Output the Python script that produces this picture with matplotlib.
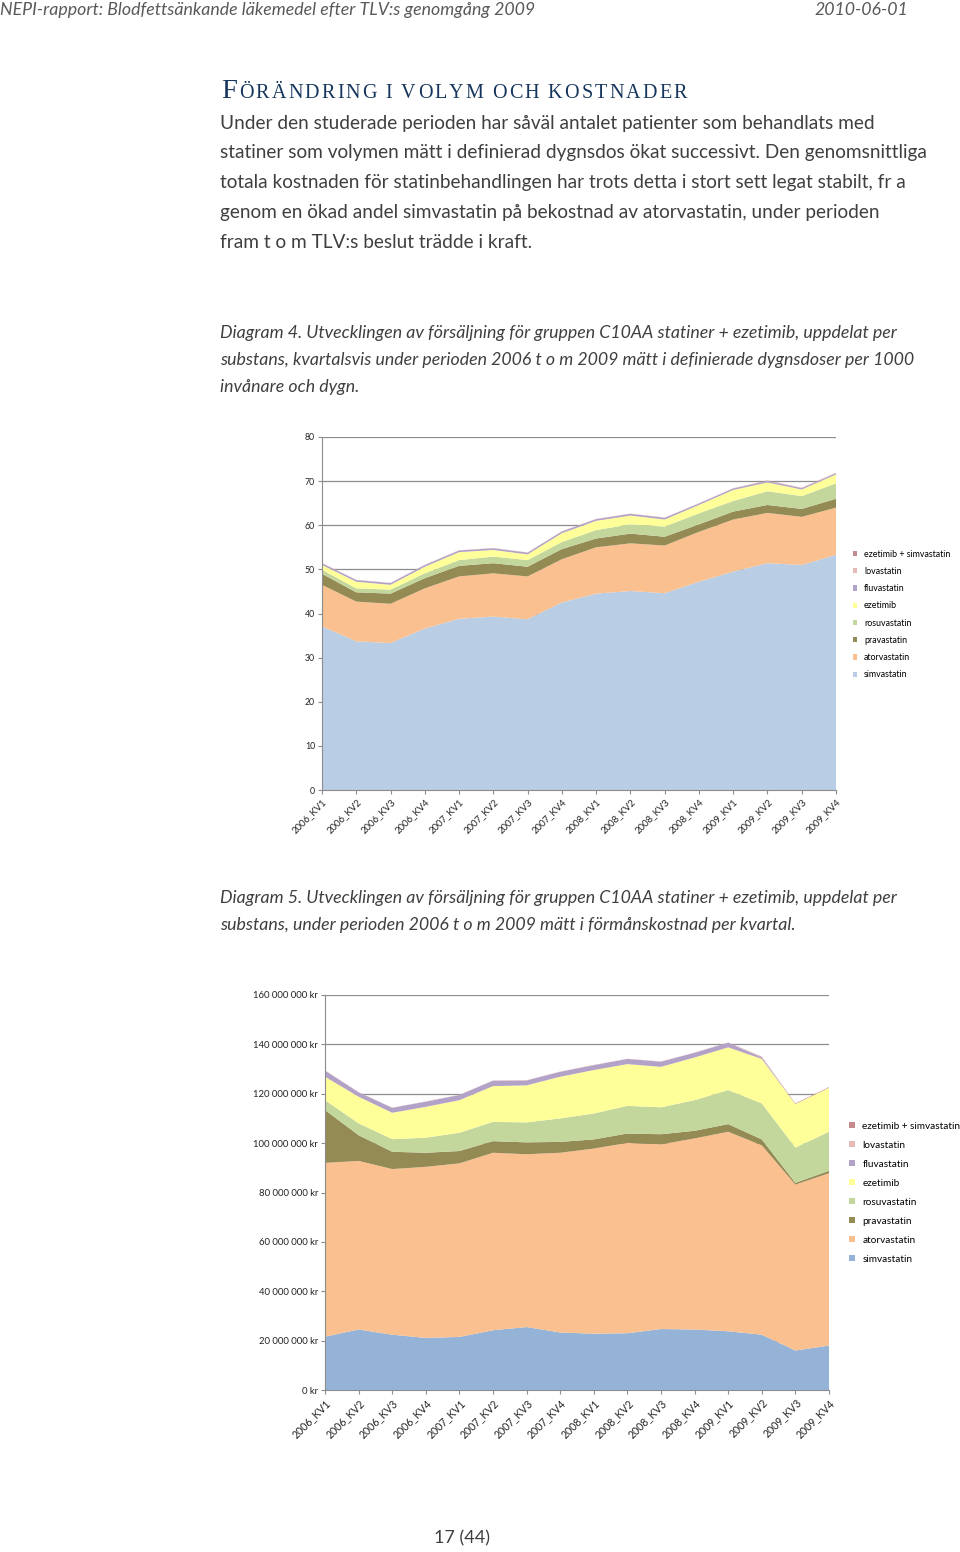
import numpy as np
import matplotlib
matplotlib.use('Agg')
from matplotlib import pyplot as plt
from matplotlib.patches import Patch

quarters = ['2006_KV1', '2006_KV2', '2006_KV3', '2006_KV4',
            '2007_KV1', '2007_KV2', '2007_KV3', '2007_KV4',
            '2008_KV1', '2008_KV2', '2008_KV3', '2008_KV4',
            '2009_KV1', '2009_KV2', '2009_KV3', '2009_KV4']

substances = ['simvastatin', 'atorvastatin', 'pravastatin', 'rosuvastatin',
              'ezetimib', 'fluvastatin', 'lovastatin', 'ezetimib + simvastatin']

# Diagram 4: DDD per 1000 invånare och dygn
simva_ddd = [37.1, 33.7, 33.3, 36.6, 38.8, 39.3, 38.7, 42.5, 44.5, 45.1, 44.6, 47.2, 49.5, 51.4, 51.0, 53.3]
atorva_ddd = [9.4, 9.0, 8.9, 9.1, 9.6, 9.8, 9.7, 9.8, 10.5, 10.8, 10.8, 11.3, 11.8, 11.4, 10.9, 10.7]
prava_ddd = [2.5, 2.1, 2.3, 2.3, 2.4, 2.3, 2.2, 2.3, 2.0, 2.2, 2.0, 1.7, 1.8, 1.8, 1.8, 2.0]
rosu_ddd = [0.9, 0.9, 0.9, 1.1, 1.3, 1.5, 1.5, 1.6, 1.9, 2.1, 2.3, 2.5, 2.4, 3.1, 2.9, 3.5]
eze_ddd = [1.1, 1.5, 1.1, 1.5, 1.8, 1.5, 1.3, 2.0, 2.1, 2.0, 1.6, 1.9, 2.5, 2.0, 1.5, 2.0]
fluva_ddd = [0.4, 0.4, 0.4, 0.4, 0.4, 0.4, 0.4, 0.4, 0.4, 0.4, 0.4, 0.35, 0.35, 0.35, 0.3, 0.3]
lova_ddd = [0.05, 0.05, 0.05, 0.05, 0.05, 0.05, 0.05, 0.05, 0.05, 0.05, 0.05, 0.05, 0.05, 0.05, 0.05, 0.05]
ezsim_ddd = [0.0, 0.0, 0.0, 0.0, 0.0, 0.0, 0.0, 0.0, 0.0, 0.0, 0.0, 0.0, 0.0, 0.05, 0.05, 0.05]

# Diagram 5: förmånskostnad per kvartal (miljoner kr)
simva_kr = [21.6, 24.5, 22.4, 21.1, 21.5, 24.2, 25.5, 23.3, 22.8, 23.0, 24.7, 24.5, 23.8, 22.4, 16.0, 18.0]
atorva_kr = [70.4, 68.3, 67.1, 69.3, 70.3, 71.9, 70.0, 72.8, 75.0, 77.1, 74.8, 77.4, 80.8, 76.7, 67.2, 69.8]
prava_kr = [21.4, 10.4, 7.0, 5.7, 5.0, 4.7, 4.8, 4.4, 3.7, 3.8, 4.1, 3.1, 3.1, 2.4, 0.7, 1.0]
rosu_kr = [4.0, 4.8, 5.1, 6.1, 7.4, 7.8, 8.1, 9.5, 10.5, 11.2, 10.9, 12.4, 13.8, 14.6, 14.3, 15.8]
eze_kr = [9.5, 10.8, 10.7, 12.5, 13.2, 14.5, 15.0, 16.9, 17.6, 16.9, 16.4, 17.3, 17.3, 18.0, 17.6, 17.8]
fluva_kr = [2.5, 1.8, 2.0, 2.1, 2.1, 2.2, 2.0, 2.0, 2.0, 2.1, 2.1, 1.9, 1.9, 0.6, 0.0, 0.0]
lova_kr = [0.1, 0.1, 0.1, 0.1, 0.1, 0.1, 0.1, 0.1, 0.1, 0.1, 0.1, 0.1, 0.1, 0.1, 0.1, 0.1]
ezsim_kr = [0.0, 0.0, 0.0, 0.0, 0.0, 0.0, 0.0, 0.0, 0.0, 0.0, 0.0, 0.0, 0.0, 0.2, 0.2, 0.2]

kr_ticks = [0, 20, 40, 60, 80, 100, 120, 140, 160]
ddd_ticks = [0, 10, 20, 30, 40, 50, 60, 70, 80]

colors1 = ['#B9CDE5', '#FAC090', '#948A54', '#C3D69B', '#FFFF99', '#B3A2C7', '#E6B9B8', '#C48A8C']
colors2 = ['#95B3D7', '#FAC090', '#948A54', '#C3D69B', '#FFFF99', '#B3A2C7', '#E6B9B8', '#C48A8C']

body = '#3F3F3F'
sans = ['Lato', 'DejaVu Sans']

fig = plt.figure(figsize=(9.6, 15.52), dpi=100)
renderer = fig.canvas.get_renderer()

def ftext(x, y, s, **kw):
    return fig.text(x / 960, 1 - y / 1552, s, **kw)

# Page header
ftext(0, 10, 'NEPI-rapport: Blodfettsänkande läkemedel efter TLV:s genomgång 2009',
      fontsize=12.8, style='italic', color='#595959', family=sans, va='center')
ftext(908, 10, '2010-06-01', fontsize=12.8, style='italic', color='#595959',
      family=sans, va='center', ha='right')

# Heading in small caps with letter spacing
head_col = '#17365D'
head_chars = [('F', 20.5)] + [(c, 14.5) for c in 'ÖRÄNDRING I VOLYM OCH KOSTNADER']
widths = []  # pixels
for c, size in head_chars:
    if c == ' ':
        widths.append(size * 0.3)
    else:
        t = fig.text(0, 0, c, fontsize=size, family='Liberation Serif')
        widths.append(t.get_window_extent(renderer).width)
        t.remove()
head_x0, head_x1 = 221, 687
track = (head_x1 - head_x0 - sum(widths)) / (len(head_chars) - 1)
x = head_x0
for (c, size), w in zip(head_chars, widths):
    if c != ' ':
        ftext(x, 98, c, fontsize=size, color=head_col, family='Liberation Serif', va='baseline')
    x += w + track

para = ['Under den studerade perioden har såväl antalet patienter som behandlats med',
        'statiner som volymen mätt i definierad dygnsdos ökat successivt. Den genomsnittliga',
        'totala kostnaden för statinbehandlingen har trots detta i stort sett legat stabilt, fr a',
        'genom en ökad andel simvastatin på bekostnad av atorvastatin, under perioden',
        'fram t o m TLV:s beslut trädde i kraft.']
for i, line in enumerate(para):
    ftext(220, 123 + i * 29.8, line, fontsize=13.65, color=body, family=sans, va='center')

cap4 = ['Diagram 4. Utvecklingen av försäljning för gruppen C10AA statiner + ezetimib, uppdelat per',
        'substans, kvartalsvis under perioden 2006 t o m 2009 mätt i definierade dygnsdoser per 1000',
        'invånare och dygn.']
for i, line in enumerate(cap4):
    ftext(220, 333 + i * 27, line, fontsize=12.75, style='italic', color=body, family=sans, va='center')

cap5 = ['Diagram 5. Utvecklingen av försäljning för gruppen C10AA statiner + ezetimib, uppdelat per',
        'substans, under perioden 2006 t o m 2009 mätt i förmånskostnad per kvartal.']
for i, line in enumerate(cap5):
    ftext(220, 898 + i * 27, line, fontsize=12.75, style='italic', color=body, family=sans, va='center')

ftext(462, 1538, '17 (44)', fontsize=13, color=body, family=sans, va='center', ha='center')


def area_chart(ax, series, colors, ticks, labelfmt, yfs, xfs):
    x = np.arange(len(quarters))
    ax.stackplot(x, *series, colors=colors, linewidth=0)
    ax.set_xlim(0, len(quarters) - 1)
    ax.set_ylim(ticks[0], ticks[-1])
    ax.set_yticks(ticks)
    ax.set_yticklabels([labelfmt(v) for v in ticks], fontsize=yfs, family=sans, color='#222222')
    ax.set_xticks(x)
    ax.set_xticklabels(quarters, rotation=45, ha='right', rotation_mode='anchor',
                       fontsize=xfs, family=sans, color='#222222')
    ax.grid(axis='y', color='#8C8C8C', linewidth=0.9)
    ax.set_axisbelow(True)
    for s in ['top', 'right']:
        ax.spines[s].set_visible(False)
    for s in ['left', 'bottom']:
        ax.spines[s].set_color('#8C8C8C')
    ax.tick_params(axis='both', length=3, color='#8C8C8C', pad=2)


ax1 = fig.add_axes([322 / 960, 1 - 790 / 1552, 514 / 960, 353 / 1552])
area_chart(ax1, [simva_ddd, atorva_ddd, prava_ddd, rosu_ddd, eze_ddd, fluva_ddd, lova_ddd, ezsim_ddd],
           colors1, ddd_ticks, lambda v: f'{v}', 6.3, 6.8)
h1 = [Patch(facecolor=c, edgecolor='none') for c in colors1][::-1]
fig.legend(h1, substances[::-1], loc='upper left', bbox_to_anchor=(849 / 960, 1 - 546 / 1552),
           frameon=False, prop={'family': sans, 'size': 6.4}, handlelength=0.55,
           handleheight=0.55, handletextpad=0.75, labelspacing=0.93, borderaxespad=0)

ax2 = fig.add_axes([325 / 960, 1 - 1390 / 1552, 504 / 960, 395 / 1552])
area_chart(ax2, [simva_kr, atorva_kr, prava_kr, rosu_kr, eze_kr, fluva_kr, lova_kr, ezsim_kr],
           colors2, kr_ticks, lambda v: (f'{v} 000 000 kr' if v else '0 kr'), 6.8, 7.6)
h2 = [Patch(facecolor=c, edgecolor='none') for c in colors2][::-1]
fig.legend(h2, substances[::-1], loc='upper left', bbox_to_anchor=(845 / 960, 1 - 1118 / 1552),
           frameon=False, prop={'family': sans, 'size': 7.2}, handlelength=0.55,
           handleheight=0.55, handletextpad=0.8, labelspacing=1.0, borderaxespad=0)

fig.savefig('out.png', dpi=100)
